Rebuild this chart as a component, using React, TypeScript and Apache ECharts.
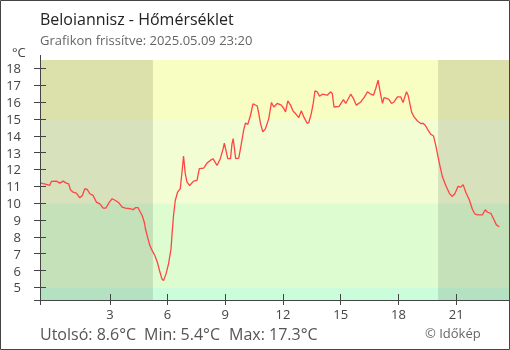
import React, { useEffect, useRef } from "react";
import * as echarts from "echarts";

// Time of day (hours) and temperature (°C)
const hours = [
  -0.59, -0.30, -0.13, -0.04, 0.22, 0.40, 0.57, 0.74, 0.86, 0.95, 1.09, 1.26, 1.44, 1.57, 1.70, 1.83, 1.96,
  2.13, 2.30, 2.48, 2.65, 2.79, 2.95, 3.12, 3.29, 3.47, 3.64, 3.81, 4.04, 4.21, 4.33, 4.47, 4.56, 4.68,
  4.79, 4.85, 4.96, 5.08, 5.20, 5.34, 5.48, 5.58, 5.71, 5.79, 5.92, 6.05, 6.18, 6.23, 6.31, 6.40, 6.52,
  6.66, 6.75, 6.83, 6.92, 7.01, 7.15, 7.35, 7.53, 7.65, 7.88, 8.05, 8.22, 8.36, 8.57, 8.74, 8.89, 8.95,
  9.13, 9.27, 9.35, 9.41, 9.54, 9.70, 9.82, 9.96, 10.05, 10.17, 10.31, 10.44, 10.66, 10.74, 10.83, 10.95,
  11.09, 11.26, 11.40, 11.52, 11.70, 11.91, 12.04, 12.13, 12.25, 12.39, 12.53, 12.65, 12.82, 12.95, 13.08,
  13.26, 13.34, 13.47, 13.57, 13.66, 13.78, 13.90, 14.04, 14.30, 14.47, 14.56, 14.65, 14.91, 15.14, 15.26,
  15.52, 15.66, 15.81, 16.04, 16.21, 16.39, 16.56, 16.70, 16.82, 16.94, 17.08, 17.17, 17.25, 17.43, 17.51,
  17.64, 17.77, 17.95, 18.12, 18.24, 18.33, 18.42, 18.50, 18.59, 18.68, 18.81, 18.99, 19.16, 19.30, 19.42,
  19.54, 19.68, 19.82, 19.94, 20.06, 20.17, 20.29, 20.46, 20.64, 20.78, 20.93, 21.10, 21.24, 21.36, 21.50,
  21.68, 21.85, 21.97, 22.11, 22.37, 22.51, 22.63, 22.80, 22.94, 23.09, 23.24,
];
const temps = [
  11.19, 11.11, 11.05, 11.29, 11.31, 11.19, 11.31, 11.19, 11.15, 10.8, 10.65, 10.6, 10.32, 10.46, 10.86, 10.8, 10.56,
  10.46, 10.06, 9.96, 9.7, 9.7, 10.02, 10.26, 10.16, 10.02, 9.76, 9.7, 9.67, 9.61, 9.73, 9.73, 9.52, 9.27,
  8.87, 8.48, 7.98, 7.48, 7.18, 6.89, 6.45, 6.0, 5.5, 5.4, 5.8, 6.39, 7.29, 8.12, 9.27, 10.16, 10.65,
  10.86, 11.85, 12.8, 11.75, 11.25, 11.05, 11.31, 11.35, 12.05, 12.08, 12.38, 12.54, 12.64, 12.24, 12.64, 13.24, 13.57,
  12.64, 12.64, 13.54, 13.83, 12.64, 12.68, 13.43, 14.37, 14.76, 14.68, 15.22, 15.9, 15.77, 15.32, 14.73, 14.23,
  14.43, 15.02, 15.98, 15.71, 15.92, 15.82, 15.62, 15.42, 16.07, 15.82, 15.46, 15.32, 15.08, 15.48, 15.12,
  14.73, 14.79, 15.32, 15.92, 16.67, 16.61, 16.35, 16.47, 16.41, 16.61, 16.51, 15.71, 15.75, 16.15, 15.92,
  16.47, 16.21, 15.82, 16.01, 16.27, 16.61, 16.47, 16.41, 16.81, 17.3, 16.41, 15.92, 16.27, 16.21, 16.15,
  15.92, 16.01, 16.31, 16.31, 15.98, 16.31, 16.61, 16.41, 15.92, 15.42, 15.12, 14.88, 14.73, 14.73, 14.57,
  14.33, 14.09, 13.99, 13.43, 12.74, 12.14, 11.55, 11.05, 10.6, 10.4, 10.56, 11.0, 10.95, 11.1, 10.65,
  10.2, 9.61, 9.37, 9.31, 9.31, 9.61, 9.46, 9.4, 9.07, 8.71, 8.6,
];

const xMin = -0.63;
const xMax = 23.745;
const yMin = 4.25;
const yMax = 18.5;
const yTicks = [5, 6, 7, 8, 9, 10, 11, 12, 13, 14, 15, 16, 17, 18];
const xTicks = [3, 6, 9, 12, 15, 18, 21];
const bandEdges = [yMin, 5, 10, 15, yMax];
const bandColors = ["#cbfdda", "#ddfdd1", "#f2fdd3", "#f8fdc1"];
const nights = [
  [xMin, 5.24],
  [20.06, xMax],
];
const titleText = "Beloiannisz - Hőmérséklet";
const subtitleText = "Grafikon frissítve: 2025.05.09 23:20";
const statTexts = ["Utolsó: 8.6°C", "Min: 5.4°C", "Max: 17.3°C"];
const creditText = "© Időkép";

const FONT = "'Open Sans', 'Noto Sans', sans-serif";

export default function App() {
  const ref = useRef<HTMLDivElement>(null);
  useEffect(() => {
    document.body.style.margin = "0";
    const chart = echarts.init(ref.current!, null, { renderer: "svg" });
    const areas: any[] = [];
    for (let i = 0; i < bandColors.length; i++) {
      areas.push([
        { yAxis: bandEdges[i], itemStyle: { color: bandColors[i], opacity: 1 } },
        { yAxis: bandEdges[i + 1] },
      ]);
    }
    nights.forEach((n) =>
      areas.push([
        { xAxis: n[0], itemStyle: { color: "rgba(0,0,0,0.11)", opacity: 1 } },
        { xAxis: n[1] },
      ])
    );
    const axisColor = "#444";
    chart.setOption({
      animation: false,
      textStyle: { fontFamily: FONT },
      grid: { left: 40, right: 1, top: 60, bottom: 50, containLabel: false },
      xAxis: [
        {
          type: "value",
          min: xMin,
          max: xMax,
          position: "bottom",
          z: 10,
          axisLine: { show: true, onZero: false, lineStyle: { color: axisColor, width: 1 } },
          axisTick: { show: true, inside: false, length: 5, customValues: [xMin, ...xTicks], lineStyle: { color: axisColor } },
          axisLabel: { show: true, customValues: xTicks, color: "#444", fontSize: 13, margin: 7, fontFamily: FONT },
          splitLine: { show: false },
        },
        {
          type: "value",
          min: xMin,
          max: xMax,
          position: "bottom",
          offset: 0,
          z: 10,
          axisLine: { show: false, onZero: false },
          axisTick: { show: true, inside: true, length: 6, customValues: xTicks, lineStyle: { color: axisColor } },
          axisLabel: { show: false },
          splitLine: { show: false },
        },
      ],
      yAxis: [
        {
          type: "value",
          min: yMin,
          max: yMax,
          position: "left",
          z: 10,
          axisLine: { show: true, onZero: false, lineStyle: { color: axisColor, width: 1 } },
          axisTick: { show: true, inside: false, length: 6, customValues: [yMin, ...yTicks], lineStyle: { color: axisColor } },
          axisLabel: { show: true, customValues: yTicks, color: "#444", fontSize: 13, margin: 19, fontFamily: FONT },
          splitLine: { show: false },
        },
        {
          type: "value",
          min: yMin,
          max: yMax,
          position: "left",
          offset: 0,
          z: 10,
          axisLine: { show: false, onZero: false },
          axisTick: { show: true, inside: true, length: 6, customValues: yTicks, lineStyle: { color: axisColor } },
          axisLabel: { show: false },
          splitLine: { show: false },
        },
      ],
      graphic: [
        {
          type: "rect",
          shape: { x: 0.5, y: 0.5, width: 509, height: 349 },
          style: { fill: "none", stroke: "#444", lineWidth: 1 },
          z: 100,
        },
        {
          type: "line",
          shape: { x1: 40.5, y1: 55, x2: 40.5, y2: 60 },
          style: { stroke: axisColor, lineWidth: 1 },
        },
        {
          type: "text",
          left: 40,
          top: 11,
          style: { text: titleText, fill: "#222", fontSize: 16, fontFamily: FONT },
        },
        {
          type: "text",
          left: 40,
          top: 33,
          style: { text: subtitleText, fill: "#666", fontSize: 13, fontFamily: FONT },
        },
        {
          type: "text",
          left: 12,
          top: 45,
          style: { text: "°C", fill: "#444", fontSize: 13, fontFamily: FONT },
        },
        {
          type: "text",
          left: 40,
          top: 326,
          style: { text: statTexts[0], fill: "#555", fontSize: 16, fontFamily: FONT },
        },
        {
          type: "text",
          left: 144,
          top: 326,
          style: { text: statTexts[1], fill: "#555", fontSize: 16, fontFamily: FONT },
        },
        {
          type: "text",
          left: 229,
          top: 326,
          style: { text: statTexts[2], fill: "#555", fontSize: 16, fontFamily: FONT },
        },
        {
          type: "text",
          left: 425,
          top: 326,
          style: { text: creditText, fill: "#666", fontSize: 13, fontFamily: FONT },
        },
      ],
      series: [
        {
          type: "line",
          xAxisIndex: 0,
          yAxisIndex: 0,
          data: hours.map((h, i) => [h, temps[i]]),
          showSymbol: false,
          symbol: "none",
          lineStyle: { color: "#ff4444", width: 1.3 },
          z: 5,
          silent: true,
          markArea: {
            silent: true,
            label: { show: false },
            data: areas,
          },
        },
      ],
    });
    return () => chart.dispose();
  }, []);
  return <div ref={ref} style={{ position: "fixed", left: 0, top: 0, width: 510, height: 350 }} />;
}
